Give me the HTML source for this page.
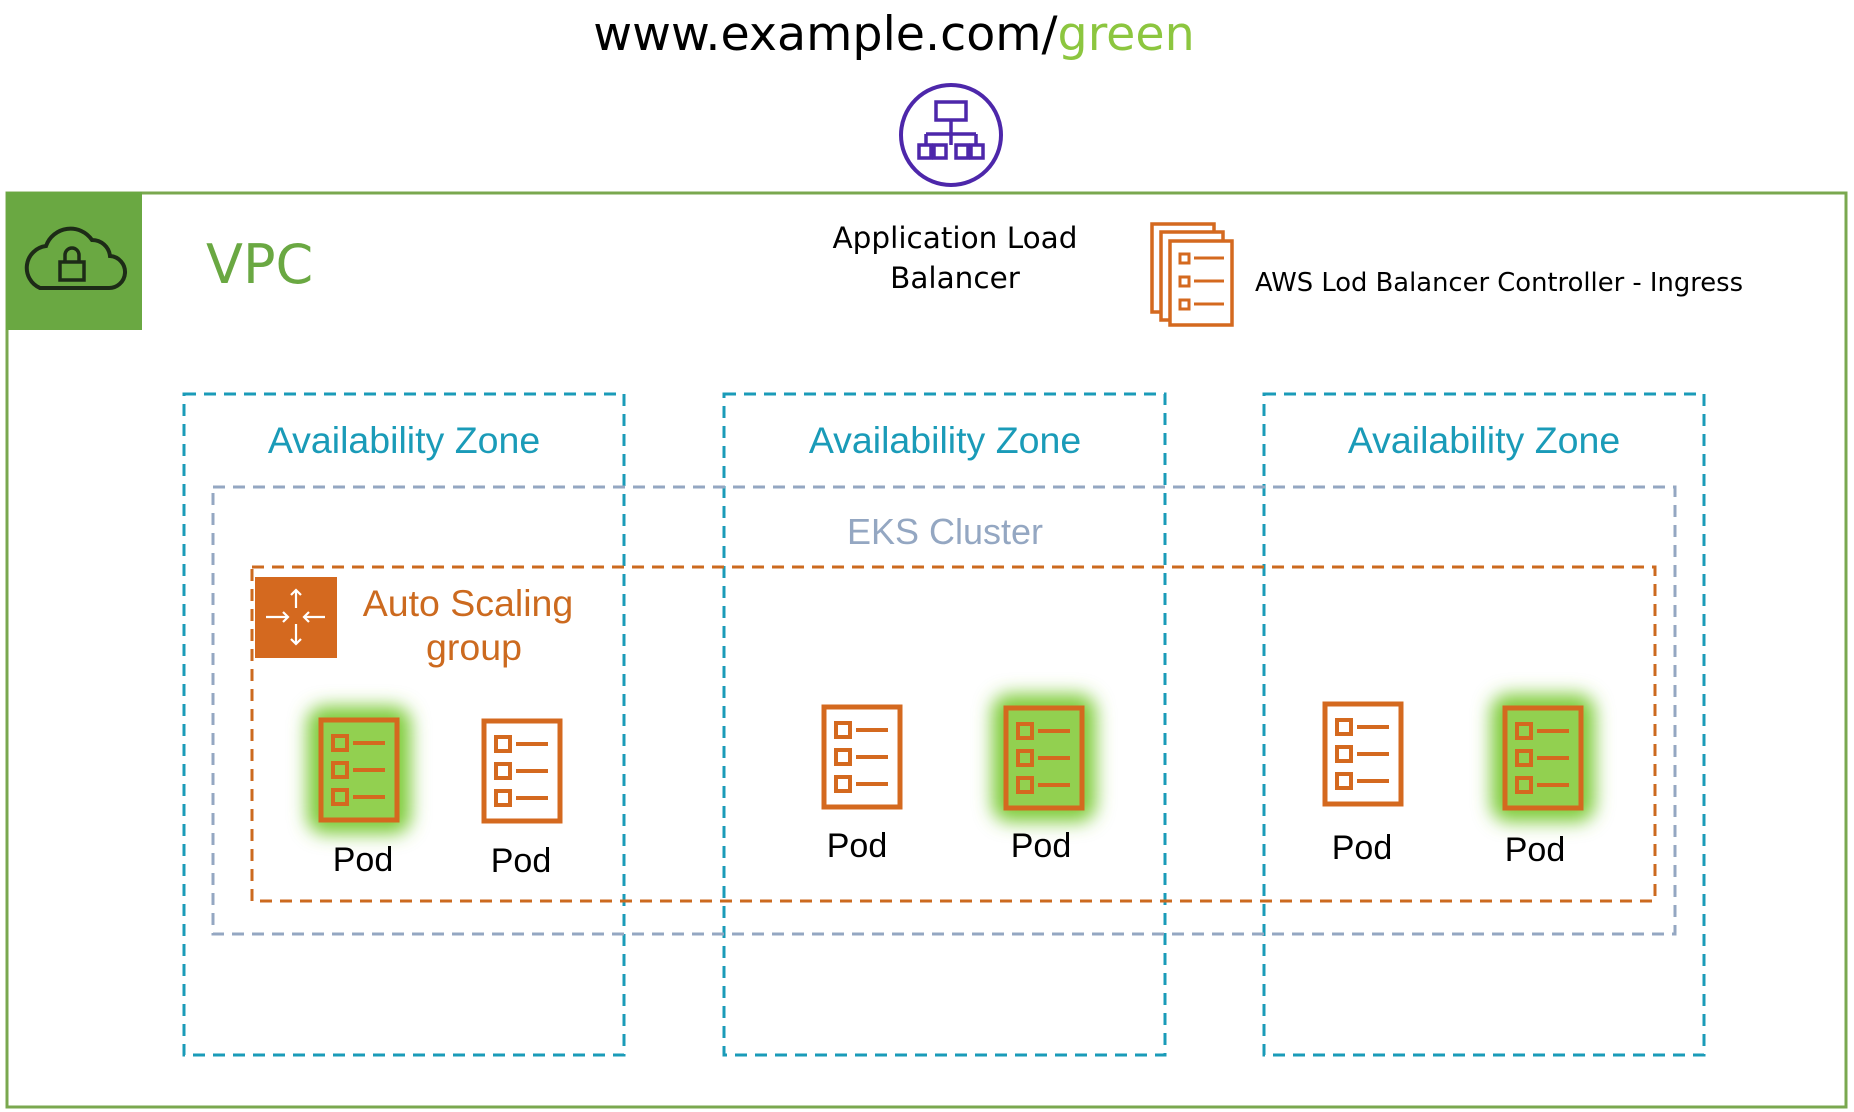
<!DOCTYPE html>
<html><head><meta charset="utf-8"><style>
html,body{margin:0;padding:0;background:#fff;width:1854px;height:1112px;overflow:hidden}
svg text{font-family:"Liberation Sans",Arial,sans-serif}
.dv{font-family:"DejaVu Sans",Verdana,sans-serif}
</style></head><body>
<svg width="1854" height="1112" viewBox="0 0 1854 1112" xmlns="http://www.w3.org/2000/svg">
<defs>
<filter id="glow" x="-50%" y="-50%" width="200%" height="200%"><feGaussianBlur stdDeviation="9"/></filter>
<g id="pod">
<rect x="2" y="2" width="76" height="100" fill="none" stroke="#d4691f" stroke-width="5"/>
<rect x="14" y="18" width="14" height="14" fill="none" stroke="#d4691f" stroke-width="4"/>
<line x1="34" y1="25" x2="66" y2="25" stroke="#d4691f" stroke-width="4"/>
<rect x="14" y="45" width="14" height="14" fill="none" stroke="#d4691f" stroke-width="4"/>
<line x1="34" y1="52" x2="66" y2="52" stroke="#d4691f" stroke-width="4"/>
<rect x="14" y="72" width="14" height="14" fill="none" stroke="#d4691f" stroke-width="4"/>
<line x1="34" y1="79" x2="66" y2="79" stroke="#d4691f" stroke-width="4"/>
</g>
<g id="gpod">
<rect x="-12" y="-12" width="104" height="128" rx="18" fill="#7fcc3a" filter="url(#glow)"/>
<rect x="2" y="2" width="76" height="100" fill="#92d050"/>
<use href="#pod"/>
</g>
</defs>

<text x="894" y="50" class="dv" font-size="47.5" text-anchor="middle" fill="#000">www.example.com/<tspan fill="#8cc63f">green</tspan></text>

<circle cx="951" cy="135" r="50" fill="#fff" stroke="#4d27aa" stroke-width="4"/>
<g fill="none" stroke="#4d27aa" stroke-width="3.5">
<rect x="936" y="102" width="30" height="18"/>
<line x1="951" y1="120" x2="951" y2="134"/>
<line x1="926" y1="134" x2="976" y2="134"/>
<line x1="926" y1="134" x2="926" y2="145"/><line x1="951" y1="134" x2="951" y2="145"/><line x1="976" y1="134" x2="976" y2="145"/>
<rect x="919" y="145" width="12" height="13"/><rect x="934" y="145" width="12" height="13"/><rect x="956" y="145" width="12" height="13"/><rect x="971" y="145" width="12" height="13"/>
</g>

<rect x="7" y="193" width="1839" height="914" fill="none" stroke="#7aa84f" stroke-width="3"/>
<rect x="6" y="192" width="136" height="138" fill="#6aa842"/>
<path d="M40 288 L108 288 A16 16 0 0 0 110 256 A18 18 0 0 0 92 240 A26 26 0 0 0 46 246 A22 22 0 0 0 40 288 Z" fill="none" stroke="#1d2b17" stroke-width="4"/>
<rect x="60" y="262" width="24" height="18" fill="none" stroke="#1d2b17" stroke-width="3.5"/>
<path d="M65 262 V255 A7 7 0 0 1 79 255 V262" fill="none" stroke="#1d2b17" stroke-width="3.5"/>
<text x="206" y="283" class="dv" font-size="54" fill="#6aa842">VPC</text>

<text x="955" y="248" class="dv" font-size="29.5" text-anchor="middle" fill="#000">Application  Load</text>
<text x="955" y="288" class="dv" font-size="29.5" text-anchor="middle" fill="#000">Balancer</text>

<g fill="#fff" stroke="#d4691f" stroke-width="3.5">
<rect x="1152" y="224" width="62" height="88"/>
<rect x="1161" y="232" width="62" height="88"/>
<rect x="1170" y="241" width="62" height="84"/>
</g>
<g fill="none" stroke="#d4691f" stroke-width="3">
<rect x="1180" y="254" width="9" height="9"/><line x1="1194" y1="258" x2="1224" y2="258"/>
<rect x="1180" y="277" width="9" height="9"/><line x1="1194" y1="281" x2="1224" y2="281"/>
<rect x="1180" y="300" width="9" height="9"/><line x1="1194" y1="304" x2="1224" y2="304"/>
</g>
<text x="1255" y="291" class="dv" font-size="25.8" fill="#000">AWS Lod Balancer  Controller  - Ingress</text>

<g fill="none" stroke="#1a9bb8" stroke-width="3" stroke-dasharray="12,8">
<rect x="184" y="394" width="440" height="661"/>
<rect x="724" y="394" width="441" height="661"/>
<rect x="1264" y="394" width="440" height="661"/>
</g>
<g font-size="37.5" fill="#1a9bb8" text-anchor="middle">
<text x="404" y="453">Availability Zone</text>
<text x="945" y="453">Availability Zone</text>
<text x="1484" y="453">Availability Zone</text>
</g>

<rect x="213" y="487" width="1462" height="447" fill="none" stroke="#94a7c2" stroke-width="3" stroke-dasharray="12,8"/>
<text x="945" y="544" font-size="36" fill="#94a7c2" text-anchor="middle">EKS Cluster</text>

<rect x="252" y="567" width="1403" height="334" fill="none" stroke="#cc6a1f" stroke-width="3" stroke-dasharray="12,8"/>
<rect x="255" y="577" width="82" height="81" fill="#d4691f"/>
<g stroke="#fff" stroke-width="2.2" fill="none">
<line x1="296" y1="590" x2="296" y2="608"/><path d="M291 595 L296 590 L301 595"/>
<line x1="296" y1="624" x2="296" y2="644"/><path d="M291 639 L296 644 L301 639"/>
<line x1="266" y1="617" x2="288" y2="617"/><path d="M283 612 L288 617 L283 622"/>
<line x1="304" y1="617" x2="325" y2="617"/><path d="M309 612 L304 617 L309 622"/>
</g>
<text x="468" y="616" font-size="37.5" fill="#cc6a1f" text-anchor="middle">Auto Scaling</text>
<text x="474" y="660" font-size="37.5" fill="#cc6a1f" text-anchor="middle">group</text>

<use href="#gpod" x="319" y="718"/>
<use href="#pod" x="482" y="719"/>
<use href="#pod" x="822" y="705"/>
<use href="#gpod" x="1004" y="706"/>
<use href="#pod" x="1323" y="702"/>
<use href="#gpod" x="1503" y="706"/>
<g font-size="34" fill="#000" text-anchor="middle">
<text x="363" y="871">Pod</text>
<text x="521" y="872">Pod</text>
<text x="857" y="857">Pod</text>
<text x="1041" y="857">Pod</text>
<text x="1362" y="859">Pod</text>
<text x="1535" y="861">Pod</text>
</g>
</svg>
</body></html>
